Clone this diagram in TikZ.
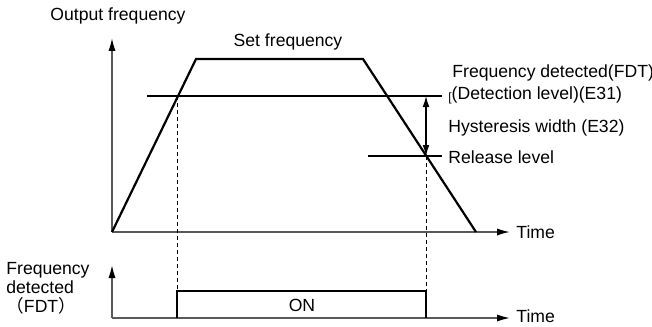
\documentclass[tikz,border=0pt]{standalone}
\usepackage{fontspec}
\setmainfont{Liberation Sans}
\newfontfamily\cjk{Noto Sans CJK JP}
\usepackage{tikz}
\usetikzlibrary{arrows.meta,positioning}

\begin{document}
\begin{tikzpicture}[x=0.5pt,y=-0.5pt,>=Latex,font=\fontsize{8.8}{10.5}\selectfont,
  axis/.style={draw=black!65,line width=0.8pt,-{Latex[length=6.5pt,width=3.6pt,black]}},
  curve/.style={line width=1.1pt},
  level/.style={line width=0.6pt},
  guide/.style={line width=0.5pt,dash pattern=on 2pt off 1.5pt},
  lbl/.style={anchor=west,inner sep=0pt}]
\useasboundingbox (0,0) rectangle (652,326);
\coordinate (o1) at (112,232); \coordinate (y1) at (112,38); \coordinate (x1) at (510,232);
\coordinate (p1) at (196,59); \coordinate (p2) at (363,59); \coordinate (p3) at (476,232);
\coordinate (d1) at (147,96); \coordinate (d2) at (442,96);
\coordinate (r1) at (368,156); \coordinate (r2) at (442,156);
\coordinate (h1) at (426,96); \coordinate (h2) at (426,156);
\coordinate (c1) at (177,96);
\coordinate (o2) at (112,318); \coordinate (y2) at (112,265); \coordinate (x2) at (510,318);
\coordinate (b1) at (177,291); \coordinate (b2) at (426,291);
\coordinate (e1) at (177,318); \coordinate (e2) at (426,318);
\draw[axis] (o1)--(y1);
\draw[axis] (o1)--(x1);
\draw[curve] (o1)--(p1)--(p2)--(p3);
\draw[level] (d1)--(d2);
\draw[level] (r1)--(r2);
\draw[level,{Latex[length=5.5pt,width=3.4pt]}-{Latex[length=5.5pt,width=3.4pt]}] (h1)--(h2);
\draw[guide] (c1)--(b1);
\draw[guide] (h2)--(b2);
\draw[axis] (o2)--(y2);
\draw[axis] (o2)--(x2);
\draw[curve,line width=0.9pt] (e1)--(b1)--(b2)--(e2);
\node (out) at (118,16) {Output frequency};
\node (set) at (288,42) {Set frequency};
\node[lbl] (fdt) at (452,73) {Frequency detected(FDT)};
\node[lbl] (det) at (448,95) {\raisebox{-1pt}{\fontsize{6}{6}\selectfont[}(Detection level)(E31)};
\node[lbl] (hys) at (448,128) {Hysteresis width (E32)};
\node[lbl] (rel) at (448,157) {Release level};
\node[lbl] (t1) at (516,232) {Time};
\node[lbl] (t2) at (516,316) {Time};
\node (on) at (302,305) {ON};
\node[align=left,anchor=west,inner sep=0pt] (fd) at (6,288) {Frequency\\[-1pt]detected\\[-1pt]{\cjk （}FDT{\cjk ）}};
\end{tikzpicture}
\end{document}
